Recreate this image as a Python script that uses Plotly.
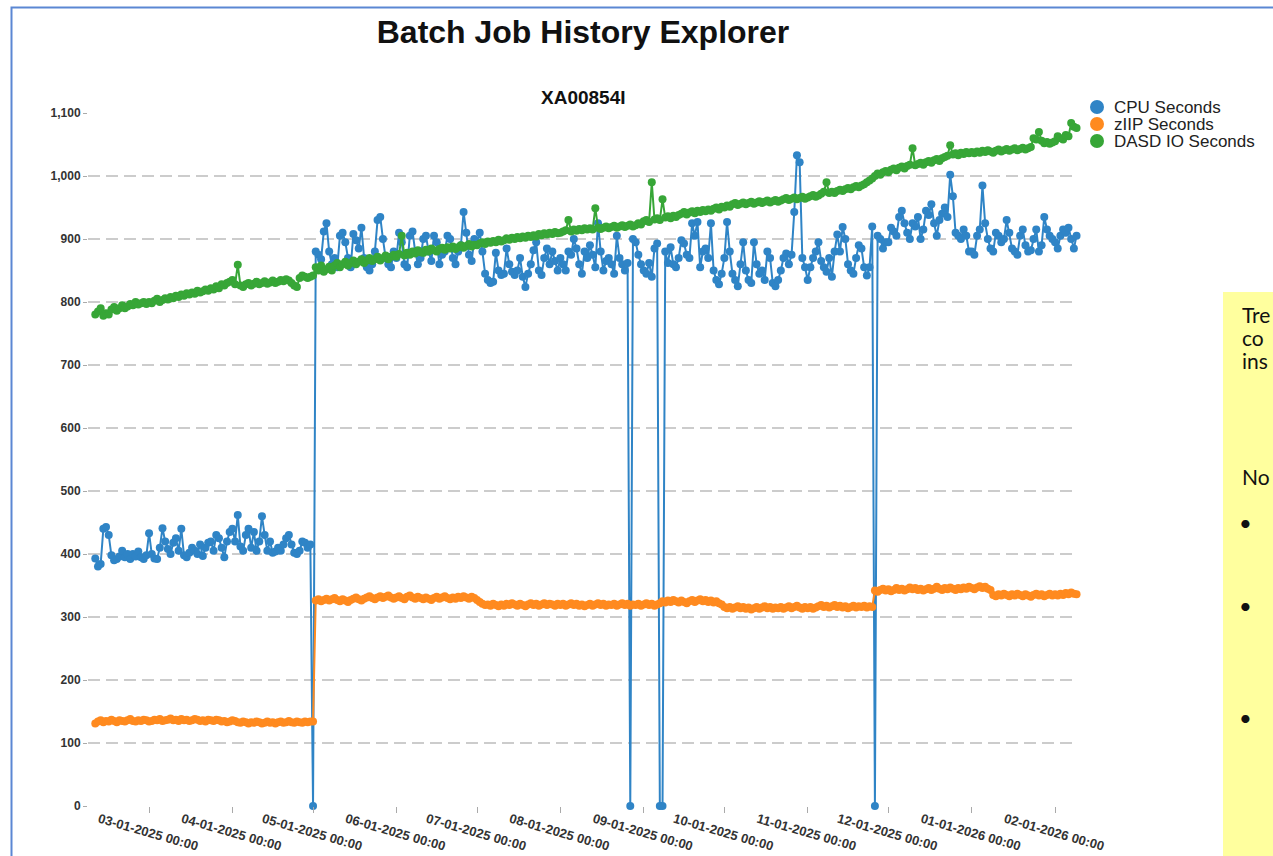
import pandas as pd
import plotly.graph_objects as go

# ---------------- data ----------------
start_date = "2025-02-09"   # one point per day through 2026-02-09

cpu_seconds = [
    # Feb 2025
    393, 380, 384, 440, 443, 430, 398, 390, 392, 396,
    405, 395, 400, 392, 400, 396, 404, 395, 392, 398,
    # Mar
    433, 400, 393, 392, 410, 441, 420, 408, 400, 418,
    425, 405, 440, 398, 395, 402, 410, 405, 400, 415,
    397, 410, 418, 420, 405, 430, 425, 410, 395, 420,
    435,
    # Apr
    440, 420, 462, 412, 405, 430, 440, 410, 435, 405,
    420, 460, 430, 405, 420, 402, 404, 410, 405, 415,
    425, 430, 415, 402, 400, 405, 420, 418, 410, 415,
    # May
    0, 880, 875, 868, 912, 925, 880, 860, 870, 855,
    905, 910, 895, 870, 855, 908, 898, 885, 918, 870,
    855, 850, 860, 880, 930, 935, 900, 870, 860, 855,
    880,
    # Jun
    870, 910, 895, 860, 855, 905, 912, 880, 860, 870,
    900, 905, 880, 865, 905, 895, 860, 875, 880, 905,
    900, 870, 860, 880, 890, 943, 910, 875, 865, 900,
    # Jul
    895, 910, 880, 845, 835, 830, 832, 878, 850, 843,
    845, 885, 860, 848, 843, 850, 870, 840, 824, 845,
    860, 882, 895, 850, 843, 870, 885, 860, 880, 865,
    850,
    # Aug
    870, 860, 850, 880, 875, 900, 885, 860, 845, 880,
    870, 890, 875, 855, 925, 880, 850, 865, 870, 860,
    845, 905, 870, 860, 850, 862, 0, 900, 895, 875,
    860,
    # Sep
    850, 845, 862, 840, 885, 893, 0, 0, 880, 862,
    887, 860, 855, 870, 898, 893, 875, 870, 925, 905,
    927, 855, 880, 885, 870, 925, 850, 835, 828, 845,
    # Oct
    870, 927, 880, 845, 835, 825, 860, 895, 850, 835,
    830, 895, 860, 845, 850, 835, 880, 870, 830, 825,
    835, 850, 870, 877, 860, 875, 943, 1033, 1022, 870,
    855,
    # Nov
    835, 855, 870, 880, 895, 865, 855, 848, 870, 840,
    880, 907, 880, 919, 900, 860, 850, 845, 870, 890,
    885, 855, 842, 855, 920, 0, 905, 900, 885, 895,
    # Dec
    895, 918, 912, 905, 935, 945, 925, 910, 900, 925,
    920, 935, 900, 915, 945, 938, 955, 925, 905, 930,
    940, 950, 935, 1002, 968, 910, 905, 900, 915, 905,
    880,
    # Jan 2026
    880, 875, 905, 915, 985, 925, 900, 885, 880, 910,
    905, 895, 900, 930, 910, 885, 880, 875, 905, 915,
    890, 880, 882, 900, 915, 880, 890, 935, 915, 905,
    900,
    # Feb 2026
    895, 885, 905, 915, 910, 918, 900, 885, 905,
]

ziip_seconds = [
    # Feb 2025
    131, 134, 136, 133, 135, 134, 137, 135, 133, 136,
    135, 134, 136, 138, 135, 134, 136, 135, 137, 136,
    # Mar
    134, 135, 137, 136, 138, 135, 136, 137, 139, 136,
    137, 135, 138, 136, 137, 135, 136, 138, 137, 135,
    136, 134, 137, 136, 135, 137, 136, 134, 135, 133,
    134,
    # Apr
    136, 135, 133, 132, 134, 133, 131, 133, 132, 134,
    133, 131, 132, 134, 132, 133, 131, 133, 134, 132,
    133, 135, 133, 132, 134, 133, 132, 134, 133, 134,
    # May
    134, 326, 328, 325, 327, 329, 326, 328, 330, 327,
    325, 328, 326, 324, 327, 329, 331, 328, 326, 329,
    331, 333, 330, 328, 331, 333, 330, 332, 334, 331,
    329,
    # Jun
    331, 333, 330, 328, 332, 334, 331, 329, 332, 330,
    328, 331, 329, 327, 330, 332, 329, 331, 333, 330,
    328, 331, 329, 332, 330, 333, 331, 329, 332, 330,
    # Jul
    327, 324, 321, 319, 320, 318, 321, 319, 317, 320,
    318, 321, 319, 322, 320, 318, 321, 319, 317, 320,
    322, 319, 321, 318, 320, 322, 319, 321, 320, 318,
    321,
    # Aug
    319, 321, 318, 320, 322, 319, 321, 318, 320, 317,
    319, 321, 318, 320, 322, 319, 321, 318, 320, 319,
    321, 318, 320, 322, 319, 321, 318, 320, 319, 321,
    318,
    # Sep
    320, 322, 319, 321, 318, 320, 322, 325, 323, 326,
    324, 327, 325, 323, 326, 324, 322, 325, 327, 324,
    326, 328, 325, 327, 324, 326, 323, 325, 322, 320,
    # Oct
    316, 314, 316, 313, 315, 317, 314, 316, 313, 315,
    312, 314, 316, 313, 315, 317, 314, 316, 313, 315,
    314, 316, 313, 315, 317, 314, 316, 318, 315, 313,
    316,
    # Nov
    314, 316, 313, 315, 317, 319, 316, 318, 315, 317,
    319, 316, 318, 315, 317, 314, 316, 318, 315, 317,
    316, 318, 315, 317, 316, 342, 340, 343, 345, 342,
    # Dec
    344, 341, 343, 346, 343, 345, 342, 344, 347, 344,
    346, 343, 345, 342, 344, 346, 343, 345, 348, 345,
    343, 346, 344, 347, 345, 343, 346, 344, 347, 345,
    348,
    # Jan 2026
    346, 344, 347, 349, 346, 348, 345, 343, 335, 333,
    336, 334, 337, 335, 333, 336, 334, 337, 335, 333,
    336, 334, 332, 335, 337, 334, 336, 333, 335, 337,
    334,
    # Feb 2026
    336, 334, 337, 335, 338, 336, 339, 337, 336,
]

dasd_io_seconds = [
    # Feb 2025
    780, 785, 790, 778, 782, 780, 788, 792, 786, 790,
    795, 790, 793, 797, 795, 800, 796, 798, 800, 797,
    # Mar
    800, 798, 802, 805, 800, 803, 806, 804, 808, 806,
    810, 808, 812, 810, 814, 812, 815, 813, 818, 815,
    817, 820, 818, 822, 820, 825, 822, 828, 826, 830,
    832,
    # Apr
    835, 828, 859, 826, 824, 828, 830, 826, 829, 832,
    828, 830, 833, 829, 831, 834, 830, 832, 835, 833,
    836, 834, 830, 826, 824, 838, 842, 840, 838, 840,
    # May
    842, 855, 850, 858, 848, 852, 856, 850, 858, 862,
    855, 860, 864, 858, 862, 866, 860, 864, 868, 862,
    866, 870, 865, 868, 872, 866, 870, 874, 868, 872,
    875,
    # Jun
    872, 876, 905, 874, 878, 875, 880, 877, 882, 879,
    878, 883, 880, 885, 882, 880, 884, 886, 883, 887,
    885, 888, 884, 887, 890, 886, 889, 892, 888, 891,
    # Jul
    890, 893, 895, 892, 896, 894, 897, 895, 899, 896,
    898, 901, 899, 902, 900, 903, 901, 904, 902, 905,
    903, 906, 904, 908, 906, 909, 907, 910, 908, 911,
    909,
    # Aug
    910, 912, 914, 930, 912, 915, 913, 916, 914, 917,
    915, 917, 915, 949, 918, 916, 918, 920, 917, 919,
    921, 918, 920, 922, 919, 921, 923, 920, 922, 925,
    923,
    # Sep
    928, 930, 927, 990, 931, 933, 930, 963, 934, 936,
    933, 937, 935, 938, 940, 943, 939, 942, 944, 941,
    945, 943, 946, 944, 947, 945, 948, 950, 947, 951,
    # Oct
    950, 953, 951, 955, 957, 954, 956, 958, 955, 957,
    959, 956, 958, 960, 957, 959, 961, 958, 960, 962,
    959, 961, 963, 965, 962, 964, 966, 963, 965, 967,
    964,
    # Nov
    966, 968, 970, 967, 969, 972, 975, 990, 973, 975,
    973, 976, 978, 976, 979, 981, 979, 982, 984, 982,
    985, 987, 990, 993, 996, 1000, 1004, 1002, 1006, 1008,
    # Dec
    1006, 1010, 1012, 1009, 1013, 1015, 1012, 1016, 1018, 1044,
    1017, 1019, 1021, 1018, 1022, 1024, 1021, 1025, 1027, 1024,
    1028, 1030, 1032, 1049, 1034, 1036, 1033, 1037, 1035, 1038,
    1036,
    # Jan 2026
    1038, 1036, 1039, 1037, 1040, 1038, 1041, 1039, 1037, 1040,
    1042, 1039, 1041, 1043, 1040, 1042, 1044, 1041, 1043, 1045,
    1042, 1044, 1046, 1060, 1058, 1070, 1056, 1052, 1054, 1051,
    1053,
    # Feb 2026
    1055, 1063, 1060, 1058, 1065, 1063, 1084, 1078, 1076,
]

series_names = ["CPU Seconds", "zIIP Seconds", "DASD IO Seconds"]
series_colors = ["#2f84c6", "#ff8a1f", "#37a637"]
title_text = "Batch Job History Explorer"
subtitle_text = "XA00854I"
note_lines = ["Tre", "co", "ins", "No"]

dates = pd.date_range(start_date, periods=len(cpu_seconds), freq="D")

# ---------------- geometry helpers (pixels -> paper) ----------------
W, H = 1273, 856
PL, PR, PT, PB = 88, 1078, 113, 806


def px_x(px):
    return (px - PL) / (PR - PL)


def px_y(py):
    return (PB - py) / (PB - PT)


FONT = "Liberation Sans, Arial, sans-serif"
NOTE_FONT = "Lato, Open Sans, sans-serif"

fig = go.Figure()
for name, vals, color in zip(series_names,
                             [cpu_seconds, ziip_seconds, dasd_io_seconds],
                             series_colors):
    fig.add_trace(go.Scatter(
        x=dates, y=vals, name=name, mode="lines+markers",
        line=dict(color=color, width=2),
        marker=dict(color=color, size=8, line=dict(width=0)),
        cliponaxis=False, showlegend=False,
    ))

# manual legend (circles + labels)
legend_rows = [107, 124, 141]
for name, color, ry in zip(series_names, series_colors, legend_rows):
    fig.add_shape(type="circle", xref="paper", yref="paper",
                  xsizemode="pixel", ysizemode="pixel",
                  xanchor=px_x(1097), yanchor=px_y(ry),
                  x0=-7, x1=7, y0=-7, y1=7,
                  fillcolor=color, line=dict(width=0))
    fig.add_annotation(text=name, xref="paper", yref="paper",
                       x=px_x(1112), y=px_y(ry), xanchor="left", yanchor="middle",
                       showarrow=False,
                       font=dict(family=FONT, size=17, color="#222222"))

# subtitle
fig.add_annotation(text="<b>%s</b>" % subtitle_text, xref="paper", yref="paper",
                   x=0.5, y=px_y(97), xanchor="center", yanchor="middle",
                   showarrow=False, font=dict(family=FONT, size=19, color="#111111"))

# slide frame (blue)
fig.add_shape(type="path", xref="paper", yref="paper",
              path="M %f,%f L %f,%f L %f,%f" % (px_x(11.5), px_y(870), px_x(11.5), px_y(7.5),
                                                 px_x(1290), px_y(7.5)),
              line=dict(color="#5b87d3", width=2))

# yellow note box
fig.add_shape(type="rect", xref="paper", yref="paper",
              x0=px_x(1223), x1=px_x(1290), y0=px_y(292), y1=px_y(870),
              fillcolor="#ffff9e", line=dict(width=0), layer="below")
note_y = [314, 337, 360, 476]
for txt, ny in zip(note_lines, note_y):
    fig.add_annotation(text=txt, xref="paper", yref="paper",
                       x=px_x(1240), y=px_y(ny), xanchor="left", yanchor="middle",
                       showarrow=False,
                       font=dict(family=NOTE_FONT, size=21, color="#111111"))
for by in [522, 605, 717]:
    fig.add_annotation(text="•", xref="paper", yref="paper",
                       x=px_x(1245), y=px_y(by), xanchor="center", yanchor="middle",
                       showarrow=False, font=dict(family=NOTE_FONT, size=22, color="#111111"))

fig.update_layout(
    width=W, height=H,
    margin=dict(l=PL, r=W - PR, t=PT, b=H - PB, pad=0, autoexpand=False),
    paper_bgcolor="white", plot_bgcolor="white",
    title=dict(text="<b>%s</b>" % title_text, x=0.5, xref="paper",
               y=1 - 32 / H, yref="container", yanchor="middle", xanchor="center",
               font=dict(family=FONT, size=32, color="#111111")),
    showlegend=False,
    xaxis=dict(
        type="date", automargin=False,
        range=["2025-02-06 07:00", "2026-02-09 13:00"],
        tick0="2025-03-01", dtick="M1", tickformat="%m-%d-%Y %H:%M",
        tickangle=16, ticks="outside", ticklen=6, tickcolor="#aaaaaa", tickwidth=1,
        ticklabelshift=-50, ticklabelstandoff=-6,
        tickfont=dict(family=FONT, size=13, color="#333333", weight="bold"),
        showgrid=False, zeroline=False, showline=False,
    ),
    yaxis=dict(
        range=[0, 1100], dtick=100, tickformat=",d", automargin=False,
        ticks="outside", ticklen=4, tickcolor="#aaaaaa",
        tickfont=dict(family=FONT, size=12, color="#333333", weight="bold"),
        showgrid=True, gridcolor="#cccccc", gridwidth=1.5, griddash="12px,6px",
        zeroline=False, showline=False,
    ),
)

fig.write_html(
    "out.html",
    config={"displayModeBar": False},
    post_script="document.body.style.margin='0';document.body.style.overflow='hidden';",
)
